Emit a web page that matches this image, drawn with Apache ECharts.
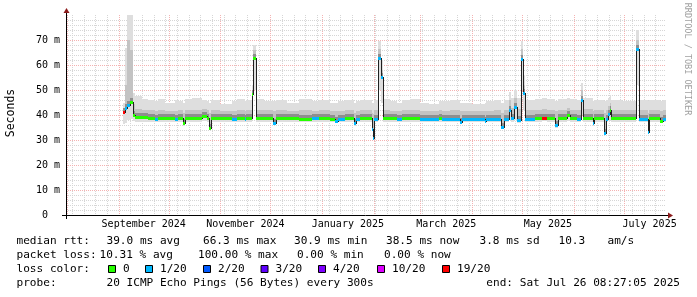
<!DOCTYPE html>
<html>
<head>
<meta charset="utf-8">
<script src="https://cdn.jsdelivr.net/npm/echarts@6.0.0/dist/echarts.min.js"></script>
<style>
html,body{margin:0;padding:0;background:#ffffff;}
#chart{width:697px;height:297px;}
</style>
</head>
<body>
<div id="chart"></div>
<script>
// ===== time frame (x values are days since 2024-09-01 00:00) =====
const DAY_MS = 86400000;
const DAY_ZERO = Date.UTC(2024, 8, 1);
const END_TIME = Date.UTC(2025, 6, 26, 8, 27, 5);
const SPAN_DAYS = 360;

// ===== tick labels =====
const yTicks = [0, 10, 20, 30, 40, 50, 60, 70];
const yUnit = 'm';
const xLabelMonths = [[2024, 8], [2024, 10], [2025, 0], [2025, 2], [2025, 4], [2025, 6]];
const xLabelTexts = ['September 2024', 'November 2024', 'January 2025', 'March 2025', 'May 2025', 'July 2025'];

// ===== median / smoke segments (value holds from segStart to next segStart) =====
const segStart = [2.8,4.0,5.0,7.0,8.6,10.0,14.0,17.5,21.8,23.6,28.0,33.8,35.6,38.5,39.5,44.0,50.0,53.0,54.3,55.3,61.0,67.8,70.8,75.5,
  76.5,79.8,80.6,82.4,87.0,92.6,94.4,101.0,108.0,116.0,120.0,127.0,130.0,131.5,136.0,141.0,142.4,144.8,151.8,152.6,153.4,155.6,157.4,158.4,
  163.0,167.0,170.0,175.0,181.0,186.0,192.0,194.0,199.0,205.0,206.2,212.0,219.6,220.6,225.0,229.5,231.2,234.4,235.4,237.0,239.0,241.2,242.5,243.6,
  249.5,254.0,257.0,262.0,263.5,269.0,271.0,275.0,277.6,278.7,284.4,285.4,291.4,292.6,293.4,294.5,295.6,302.0,310.5,312.0,317.3,318.4,324.6,326.4];
const medianMs = [41.3,42.7,44.0,45.3,40.0,39.2,39.2,38.7,38.6,38.7,38.7,38.6,38.7,36.7,38.7,38.7,39.7,38.7,35.0,38.7,38.7,38.6,38.7,38.6,
  38.7,48.3,62.9,38.7,38.7,36.9,38.7,38.7,38.6,38.7,38.7,38.6,37.8,38.6,38.7,36.7,38.6,38.7,34.5,30.9,38.6,62.7,55.3,38.7,
  38.7,38.6,38.7,38.7,38.6,38.6,38.7,38.6,38.6,37.3,38.6,38.6,37.5,38.6,38.6,35.2,38.6,42.0,38.8,43.3,38.2,62.3,48.7,38.6,
  38.7,39.0,38.7,36.0,38.7,40.0,38.7,38.6,46.0,38.7,36.7,38.7,33.0,38.6,40.5,42.0,38.7,38.7,66.3,38.6,33.2,38.7,37.8,38.6];
const lossLevel = [19,1,1,0,0,0,0,0,1,0,0,1,0,0,0,0,0,0,0,0,0,1,0,1,
  0,0,0,0,0,1,0,0,0,1,0,0,1,1,0,1,1,0,1,1,1,1,1,0,
  0,1,0,0,1,1,0,1,1,1,1,1,1,1,1,1,1,1,1,1,1,1,1,1,
  0,19,0,1,0,0,0,1,1,0,1,0,1,1,1,0,0,0,1,1,1,0,0,1];
const smokeLo = [36.5,37.0,38.0,38.5,37.5,37.3,37.3,37.2,37.2,37.3,37.3,37.2,37.3,35.5,37.3,37.3,37.5,37.3,34.5,37.3,37.3,37.2,37.3,37.2,
  37.3,38.0,50.0,37.3,37.3,36.0,37.3,37.3,37.2,37.3,37.3,37.2,36.8,37.2,37.3,35.8,37.2,37.3,33.5,30.5,37.2,50.0,45.0,37.3,
  37.3,37.2,37.3,37.3,37.2,37.2,37.3,37.2,37.2,36.5,37.2,37.2,36.7,37.2,37.2,34.5,37.2,38.0,37.3,38.0,37.0,50.0,42.0,37.2,
  37.3,37.5,37.3,35.0,37.3,37.5,37.3,37.2,40.0,37.3,35.8,37.3,32.5,37.2,37.5,38.0,37.3,37.3,52.0,37.2,32.5,37.3,36.8,37.2];
const smokeMid = [43.0,52.0,70.0,66.0,44.5,42.5,42.0,42.0,41.8,42.0,41.5,41.8,42.0,41.0,42.0,42.2,42.5,42.0,41.0,42.0,41.5,41.8,42.0,41.8,
  42.0,50.0,66.0,42.0,42.0,41.5,42.0,41.5,42.0,41.8,42.0,41.5,41.5,41.8,42.0,41.0,41.8,42.0,41.0,40.5,42.0,66.5,58.0,42.0,
  41.8,41.8,42.0,42.0,41.8,41.5,42.0,41.8,42.0,41.5,41.8,41.5,41.5,41.8,42.0,41.0,42.0,46.0,43.0,47.0,42.5,66.5,52.0,42.0,
  42.0,42.5,42.0,41.5,42.0,43.0,42.0,42.0,50.0,42.5,41.5,42.0,41.0,42.0,43.5,45.0,42.0,42.0,70.0,42.0,41.0,42.0,41.5,42.0];
const smokeHi = [45.0,67.0,86.0,86.0,49.0,47.5,46.5,46.0,45.5,46.5,45.0,46.0,45.5,45.0,46.5,47.0,46.0,45.5,45.0,46.0,44.5,45.5,46.5,45.5,
  46.0,52.0,68.0,46.5,45.5,45.5,46.0,45.0,46.5,45.5,46.0,45.0,45.0,45.5,46.0,45.0,45.5,46.0,45.0,45.0,46.0,69.5,62.0,46.5,
  45.5,45.0,46.0,46.5,45.0,44.5,45.5,45.5,46.0,45.0,45.0,44.5,45.0,45.5,46.0,45.0,46.0,49.3,47.0,50.0,47.0,69.5,56.0,46.0,
  46.5,47.0,46.5,45.5,46.5,47.0,46.5,46.0,52.7,47.0,45.5,46.0,45.5,46.0,47.0,48.0,46.0,45.5,74.0,46.0,45.5,46.0,45.5,46.0];

// ===== loss colour legend =====
const lossLevels = [0, 1, 2, 3, 4, 10, 19];
const lossLabels = ['0', '1/20', '2/20', '3/20', '4/20', '10/20', '19/20'];
const lossColors = ['#26ff00', '#00b8ff', '#0059ff', '#5e00ff', '#7e00ff', '#dd00ff', '#ff0000'];

// ===== statistics text =====
const rttStats = ['39.0 ms avg', '66.3 ms max', '30.9 ms min', '38.5 ms now', '3.8 ms sd', '10.3', 'am/s'];
const lossStats = ['10.31 % avg', '100.00 % max', '0.00 % min', '0.00 % now'];
const probeText = '20 ICMP Echo Pings (56 Bytes) every 300s';
const endText = 'end: Sat Jul 26 08:27:05 2025';

// ---------------------------------------------------------------
const xMax = (END_TIME - DAY_ZERO) / DAY_MS;
const xMin = xMax - SPAN_DAYS;
const yMax = 80;
const dayOf = (y, m) => (Date.UTC(y, m, 1) - DAY_ZERO) / DAY_MS;
const MONO = '"DejaVu Sans Mono", monospace';
const LEGEND_FONT = '11.1px ' + MONO;

// grid line items: [position, kind(0 vertical / 1 horizontal), major]
const monthStarts = [];
for (let y = 2024, m = 7; y < 2025 || m <= 6; ) {
  monthStarts.push(dayOf(y, m));
  m++; if (m > 11) { m = 0; y++; }
}
const gridItems = [];
for (let d = Math.ceil(xMin / 7) * 7; d < xMax; d += 7) {
  if (!monthStarts.some(ms => Math.abs(ms - d) < 0.01)) gridItems.push([d, 0, 0]);
}
for (let v = 2; v < yMax; v += 2) if (v % 10 !== 0) gridItems.push([v, 1, 0]);
monthStarts.forEach(d => { if (d > xMin && d < xMax) gridItems.push([d, 0, 1]); });
for (let v = 10; v < yMax; v += 10) gridItems.push([v, 1, 1]);

// segment items: [start, end, median, lossIdx, lo, mid, hi, nextMedian]
const segItems = segStart.map((s, i) => [
  s, i + 1 < segStart.length ? segStart[i + 1] : xMax, medianMs[i],
  lossLevels.indexOf(lossLevel[i]), smokeLo[i], smokeMid[i], smokeHi[i],
  i + 1 < segStart.length ? medianMs[i + 1] : NaN
]);

// x label items: [mid-month day, index]
const xLabelItems = xLabelMonths.map(([y, m], i) => {
  const a = dayOf(y, m), b = dayOf(m === 11 ? y + 1 : y, (m + 1) % 12);
  return [(a + b) / 2, i];
});

function colX(api, d) { return Math.round(api.coord([d, 0])[0]); }

const chart = echarts.init(document.getElementById('chart'), null, { renderer: 'canvas' });

const graphics = [];
// axis lines (with overhang) and arrows
graphics.push({ type: 'line', shape: { x1: 62, y1: 215.5, x2: 669, y2: 215.5 }, style: { stroke: '#000', lineWidth: 1 }, z: 100 });
graphics.push({ type: 'line', shape: { x1: 66.5, y1: 219, x2: 66.5, y2: 12 }, style: { stroke: '#000', lineWidth: 1 }, z: 100 });
graphics.push({ type: 'polygon', shape: { points: [[63.5, 13], [69.5, 13], [66.5, 8]] }, style: { fill: '#8b1a1a' }, z: 101 });
graphics.push({ type: 'polygon', shape: { points: [[668, 212.5], [668, 218.5], [673, 215.5]] }, style: { fill: '#8b1a1a' }, z: 101 });
// axis title and watermark
graphics.push({ type: 'text', x: 11, y: 113, rotation: Math.PI / 2,
  style: { text: 'Seconds', font: '11.5px ' + MONO, fill: '#000', align: 'center', verticalAlign: 'middle', textAlign: 'center', textVerticalAlign: 'middle' } });
graphics.push({ type: 'text', x: 687, y: 59, rotation: -Math.PI / 2,
  style: { text: 'RRDTOOL / TOBI OETIKER', font: '8.5px ' + MONO, fill: '#a0a0a0', align: 'center', verticalAlign: 'middle', textAlign: 'center', textVerticalAlign: 'middle' } });

function legendText(txt, x, y, align) {
  graphics.push({ type: 'text', x: x, y: y,
    style: { text: txt, font: LEGEND_FONT, fill: '#000', align: align || 'left', verticalAlign: 'middle', textAlign: align || 'left', textVerticalAlign: 'middle' } });
}
const row1 = 241, row2 = 255.5, row3 = 269, row4 = 283;
legendText('median rtt:', 16.5, row1);
[106.5, 203, 294, 386, 479.5, 558.5, 607.5].forEach((x, i) => legendText(rttStats[i], x, row1));
legendText('packet loss:', 16.5, row2);
[99.5, 198, 297, 384].forEach((x, i) => legendText(lossStats[i], x, row2));
legendText('loss color:', 16.5, row3);
[108.5, 145.5, 203.5, 261, 318.5, 377.5, 442.5].forEach((x, i) => {
  graphics.push({ type: 'rect', shape: { x: x, y: 265.5, width: 7, height: 7 }, style: { fill: lossColors[i], stroke: '#000', lineWidth: 1 } });
  legendText(lossLabels[i], x + 14.5, row3);
});
legendText('probe:', 16.5, row4);
legendText(probeText, 106.5, row4);
legendText(endText, 680, row4, 'right');

const option = {
  animation: false,
  backgroundColor: '#ffffff',
  grid: { left: 66, top: 15, width: 600, height: 200, containLabel: false },
  xAxis: {
    type: 'value', min: xMin, max: xMax,
    axisLine: { show: false }, axisTick: { show: false }, axisLabel: { show: false }, splitLine: { show: false }
  },
  yAxis: {
    type: 'value', min: 0, max: yMax, interval: 10,
    axisLine: { show: false }, axisTick: { show: false }, splitLine: { show: false },
    axisLabel: {
      margin: 6, fontFamily: MONO, fontSize: 10, color: '#000',
      formatter: v => (yTicks.indexOf(v) < 0 ? '' : (v === 0 ? '0  ' : v + ' ' + yUnit))
    }
  },
  graphic: graphics,
  series: [
    { // grid
      type: 'custom', coordinateSystem: 'cartesian2d', silent: true, clip: false, z: 1,
      data: gridItems, encode: { x: 0, y: 2 },
      renderItem: function (params, api) {
        const pos = api.value(0), kind = api.value(1), major = api.value(2);
        const color = major ? '#f4b2b2' : '#d6d6d6';
        if (kind === 0) {
          const a = api.coord([pos, 0]), b = api.coord([pos, yMax]);
          const x = Math.round(a[0]) + 0.5;
          return { type: 'line', shape: { x1: x, y1: b[1], x2: x, y2: a[1] }, style: { stroke: color, lineWidth: 1, lineDash: [1, 1] } };
        }
        const a = api.coord([xMin, pos]), b = api.coord([xMax, pos]);
        const y = Math.round(a[1]) + 0.5;
        return { type: 'line', shape: { x1: a[0], y1: y, x2: b[0], y2: y }, style: { stroke: color, lineWidth: 1, lineDash: [1, 1] } };
      }
    },
    { // smoke
      type: 'custom', coordinateSystem: 'cartesian2d', silent: true, clip: true, z: 2,
      data: segItems, encode: { x: 0, y: 2 },
      renderItem: function (params, api) {
        const xs = colX(api, api.value(0)), xe = colX(api, api.value(1));
        const w = Math.max(1, xe - xs);
        const ym = Math.round(api.coord([0, api.value(2)])[1]);
        const yLo = Math.round(api.coord([0, api.value(4)])[1]);
        const yMid = Math.round(api.coord([0, api.value(5)])[1]);
        const yHi = Math.round(api.coord([0, api.value(6)])[1]);
        return { type: 'group', children: [
          { type: 'rect', shape: { x: xs, y: yHi, width: w, height: Math.max(0, yLo - yHi) }, style: { fill: '#dedede' } },
          { type: 'rect', shape: { x: xs, y: yMid, width: w, height: Math.max(0, ym + 2 - yMid) }, style: { fill: '#c3c3c3' } },
          { type: 'rect', shape: { x: xs, y: ym - 4, width: w, height: 6 }, style: { fill: '#8e8e8e' } }
        ] };
      }
    },
    { // median line (dark)
      type: 'custom', coordinateSystem: 'cartesian2d', silent: true, clip: true, z: 3,
      data: segItems, encode: { x: 0, y: 2 },
      renderItem: function (params, api) {
        const xs = colX(api, api.value(0)), xe = colX(api, api.value(1));
        const ym = Math.round(api.coord([0, api.value(2)])[1]) + 0.5;
        const nxt = api.value(7);
        const ch = [{ type: 'line', shape: { x1: xs, y1: ym, x2: xe + 1, y2: ym }, style: { stroke: '#202020', lineWidth: 1 } }];
        if (!isNaN(nxt)) {
          const yn = Math.round(api.coord([0, nxt])[1]) + 0.5;
          ch.push({ type: 'line', shape: { x1: xe + 0.5, y1: ym, x2: xe + 0.5, y2: yn }, style: { stroke: '#202020', lineWidth: 1 } });
        }
        return { type: 'group', children: ch };
      }
    },
    { // median coloured by loss
      type: 'custom', coordinateSystem: 'cartesian2d', silent: true, clip: true, z: 4,
      data: segItems, encode: { x: 0, y: 2 },
      renderItem: function (params, api) {
        const xs = colX(api, api.value(0)), xe = colX(api, api.value(1));
        const ym = Math.round(api.coord([0, api.value(2)])[1]);
        const ci = api.value(3);
        return { type: 'rect', shape: { x: xs, y: ym - 1, width: Math.max(1, xe - xs), height: 3 }, style: { fill: lossColors[ci] } };
      }
    },
    { // x axis month labels
      type: 'custom', coordinateSystem: 'cartesian2d', silent: true, clip: false, z: 5,
      data: xLabelItems, encode: { x: 0, y: 1 },
      renderItem: function (params, api) {
        const p = api.coord([api.value(0), 0]);
        return { type: 'text', x: p[0], y: p[1] + 9.5,
          style: { text: xLabelTexts[api.value(1)], font: '10px ' + MONO, fill: '#000', align: 'center', verticalAlign: 'middle', textAlign: 'center', textVerticalAlign: 'middle' } };
      }
    }
  ]
};
chart.setOption(option);
</script>
</body>
</html>
